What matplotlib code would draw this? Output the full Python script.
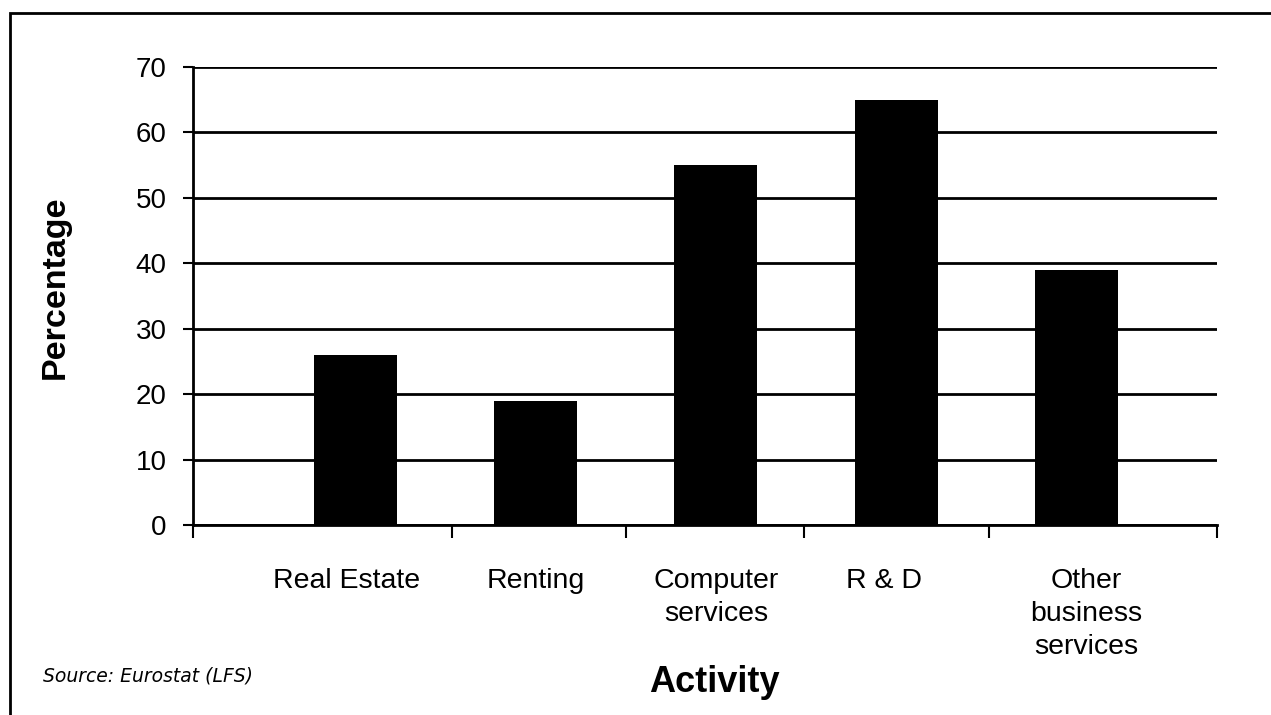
import matplotlib
matplotlib.use("Agg")
import matplotlib.pyplot as plt
from matplotlib.patches import Rectangle
from matplotlib.transforms import ScaledTranslation

# Share of employment by activity (%)
categories = ["Real Estate", "Renting", "Computer\nservices", "R & D", "Other\nbusiness\nservices"]
percentages = [26, 19, 55, 65, 39]
y_ticks = [0, 10, 20, 30, 40, 50, 60, 70]

plt.rcParams['font.family'] = ['Liberation Sans', 'DejaVu Sans']

fig = plt.figure(figsize=(12.71, 7.15), dpi=100)
ax = fig.add_axes([0.1519, 0.2657, 0.8056, 0.6406])

x = list(range(len(categories)))
ax.bar(x, percentages, width=0.46, color="black", zorder=3)

ax.set_ylim(0, 70)
ax.set_xlim(-0.8975, 4.776)
ax.set_yticks(y_ticks)
ax.tick_params(axis="y", labelsize=20, length=7, width=1.5, direction="out", pad=12)

# Category labels sit under the bars; separator ticks between categories
ax.set_xticks(x)
ax.set_xticklabels(categories, fontsize=20.5, linespacing=1.35, va="top")
ax.tick_params(axis="x", which="major", length=0, pad=31)
ax.set_xticks([-0.8975, 0.537, 1.5, 2.49, 3.51, 4.776], minor=True)
ax.tick_params(axis="x", which="minor", length=9, width=1.5, direction="out")

# small horizontal nudges of the category labels (in points)
label_shift = [-6, 0, 0, -9, 7]
for lbl, dx in zip(ax.get_xticklabels(), label_shift):
    lbl.set_transform(lbl.get_transform() + ScaledTranslation(dx / 72, 0, fig.dpi_scale_trans))

ax.yaxis.grid(True, color="black", linewidth=2.0, zorder=1)
ax.set_axisbelow(True)
for side in ("top", "right"):
    ax.spines[side].set_visible(False)
ax.spines["left"].set_linewidth(2.0)
ax.spines["bottom"].set_linewidth(2.0)

fig.text(55 / 1271, 1 - 287 / 715, "Percentage", rotation=90, fontsize=24.5,
         fontweight="bold", ha="center", va="center")
fig.text(714 / 1271, 1 - 683 / 715, "Activity", fontsize=26,
         fontweight="bold", ha="center", va="center")
fig.text(43 / 1271, 1 - 676 / 715, "Source: Eurostat (LFS)", fontsize=13.5,
         style="italic", family="DejaVu Sans", ha="left", va="center")

# Frame around the whole chart
fig.patches.append(Rectangle((10 / 1271, -0.05), 1.0, 1 - 13 / 715 + 0.05,
                             transform=fig.transFigure, fill=False,
                             edgecolor="black", linewidth=2.0))

fig.savefig("out.png", dpi=100)
